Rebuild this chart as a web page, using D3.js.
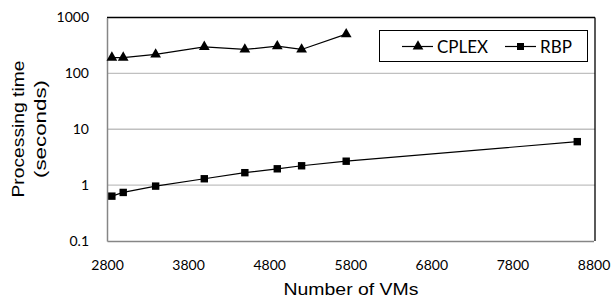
<!DOCTYPE html>
<html>
<head>
<meta charset="utf-8">
<script src="https://cdn.jsdelivr.net/npm/d3@7"></script>
<style>
  body { margin: 0; background: #fff; }
  svg { display: block; }
</style>
</head>
<body>
<div id="chart"></div>
<script>
// data
var cplexVMs = [2860, 3000, 3400, 4000, 4500, 4900, 5200, 5750];
var cplexTime = [192, 192, 218, 299, 268, 307, 268, 503];
var rbpVMs = [2860, 3000, 3400, 4000, 4500, 4900, 5200, 5750, 8600];
var rbpTime = [0.635, 0.74, 0.96, 1.3, 1.67, 1.96, 2.22, 2.68, 6.0];
var xTicks = [2800, 3800, 4800, 5800, 6800, 7800, 8800];
var yTicks = [0.1, 1, 10, 100, 1000];

var width = 613, height = 299;
// plot area edges (note: "top" is taken by window.top)
var plotLeft = 107, plotRight = 595, plotTop = 17.5, plotBottom = 241;

var svg = d3.select("#chart").append("svg")
    .attr("width", width)
    .attr("height", height);

var x = d3.scaleLinear().domain([2800, 8800]).range([plotLeft, plotRight - 1.5]);
var y = d3.scaleLog().domain([0.1, 1000]).range([plotBottom, plotTop]);

// gridlines
svg.append("g")
    .selectAll("line")
    .data(yTicks.slice(1, 4))
    .enter()
    .append("line")
    .attr("x1", plotLeft).attr("x2", plotRight)
    .attr("y1", function (d) { return y(d); })
    .attr("y2", function (d) { return y(d); })
    .attr("stroke", "#c0c0c0")
    .attr("stroke-width", 1.3);

// frame: top/right dark, left/bottom gray
svg.append("line").attr("x1", plotLeft).attr("x2", plotRight).attr("y1", plotTop).attr("y2", plotTop)
    .attr("stroke", "#000").attr("stroke-width", 1.3);
svg.append("line").attr("x1", plotRight).attr("x2", plotRight).attr("y1", plotTop).attr("y2", plotBottom)
    .attr("stroke", "#000").attr("stroke-width", 1.3);

// axes
var yAxis = svg.append("g")
    .attr("transform", "translate(" + plotLeft + ",0)")
    .call(d3.axisLeft(y).tickValues(yTicks).tickSize(0).tickPadding(18)
        .tickFormat(function (d) { return d; }));
var xAxis = svg.append("g")
    .attr("transform", "translate(0," + plotBottom + ")")
    .call(d3.axisBottom(x).tickValues(xTicks).tickSize(0).tickPadding(19)
        .tickFormat(function (d) { return d; }));

[xAxis, yAxis].forEach(function (a) {
    a.select(".domain").attr("stroke", "#868686").attr("stroke-width", 1.5);
    a.selectAll("text")
        .style("font-family", "Lato, sans-serif")
        .style("font-size", "14px")
        .attr("fill", "#000");
});

// axis titles
svg.append("text")
    .attr("x", 351).attr("y", 295)
    .attr("text-anchor", "middle")
    .style("font-family", "'Liberation Sans', Arial, sans-serif")
    .style("font-size", "17px")
    .attr("textLength", 135)
    .attr("lengthAdjust", "spacingAndGlyphs")
    .text("Number of VMs");

var yTitle = svg.append("text")
    .attr("transform", "translate(24,129) rotate(-90)")
    .attr("text-anchor", "middle")
    .style("font-family", "'Liberation Sans', Arial, sans-serif")
    .style("font-size", "17px");
yTitle.append("tspan").attr("x", 0).attr("y", 0)
    .attr("textLength", 137).attr("lengthAdjust", "spacingAndGlyphs")
    .text("Processing time");
yTitle.append("tspan").attr("x", 0).attr("y", 22)
    .attr("textLength", 98).attr("lengthAdjust", "spacingAndGlyphs")
    .text("(seconds)");

// lines
var line = d3.line()
    .x(function (d) { return x(d[0]); })
    .y(function (d) { return y(d[1]); });

var cplex = d3.zip(cplexVMs, cplexTime);
var rbp = d3.zip(rbpVMs, rbpTime);

svg.append("path").datum(cplex).attr("d", line)
    .attr("fill", "none").attr("stroke", "#000").attr("stroke-width", 1.2);
svg.append("path").datum(rbp).attr("d", line)
    .attr("fill", "none").attr("stroke", "#000").attr("stroke-width", 1.2);

var tri = d3.symbol().type(d3.symbolTriangle).size(50);

svg.append("g")
    .selectAll("path")
    .data(cplex)
    .enter()
    .append("path")
    .attr("d", tri)
    .attr("transform", function (d) { return "translate(" + x(d[0]) + "," + y(d[1]) + ")"; })
    .attr("fill", "#000");

svg.append("g")
    .selectAll("rect")
    .data(rbp)
    .enter()
    .append("rect")
    .attr("x", function (d) { return x(d[0]) - 3.7; })
    .attr("y", function (d) { return y(d[1]) - 3.7; })
    .attr("width", 7.4).attr("height", 7.4)
    .attr("fill", "#000");

// legend
var legend = svg.append("g");
legend.append("rect")
    .attr("x", 379.5).attr("y", 30.5).attr("width", 208).attr("height", 31)
    .attr("fill", "#fff").attr("stroke", "#000").attr("stroke-width", 1);

var legendItems = [
    { name: "CPLEX", x0: 402, type: "tri" },
    { name: "RBP", x0: 505, type: "sq" }
];
legendItems.forEach(function (item) {
    var cy = 46.5;
    legend.append("line")
        .attr("x1", item.x0).attr("x2", item.x0 + 31)
        .attr("y1", cy).attr("y2", cy)
        .attr("stroke", "#000").attr("stroke-width", 1.2);
    if (item.type === "tri") {
        legend.append("path").attr("d", tri)
            .attr("transform", "translate(" + (item.x0 + 16) + "," + cy + ")");
    } else {
        legend.append("rect")
            .attr("x", item.x0 + 15.5 - 3.5).attr("y", cy - 3.5)
            .attr("width", 7).attr("height", 7);
    }
    legend.append("text")
        .attr("x", item.x0 + 35).attr("y", cy)
        .attr("dy", "0.36em")
        .style("font-family", "Lato, sans-serif")
        .style("font-size", "17px")
        .text(item.name);
});
</script>
</body>
</html>
